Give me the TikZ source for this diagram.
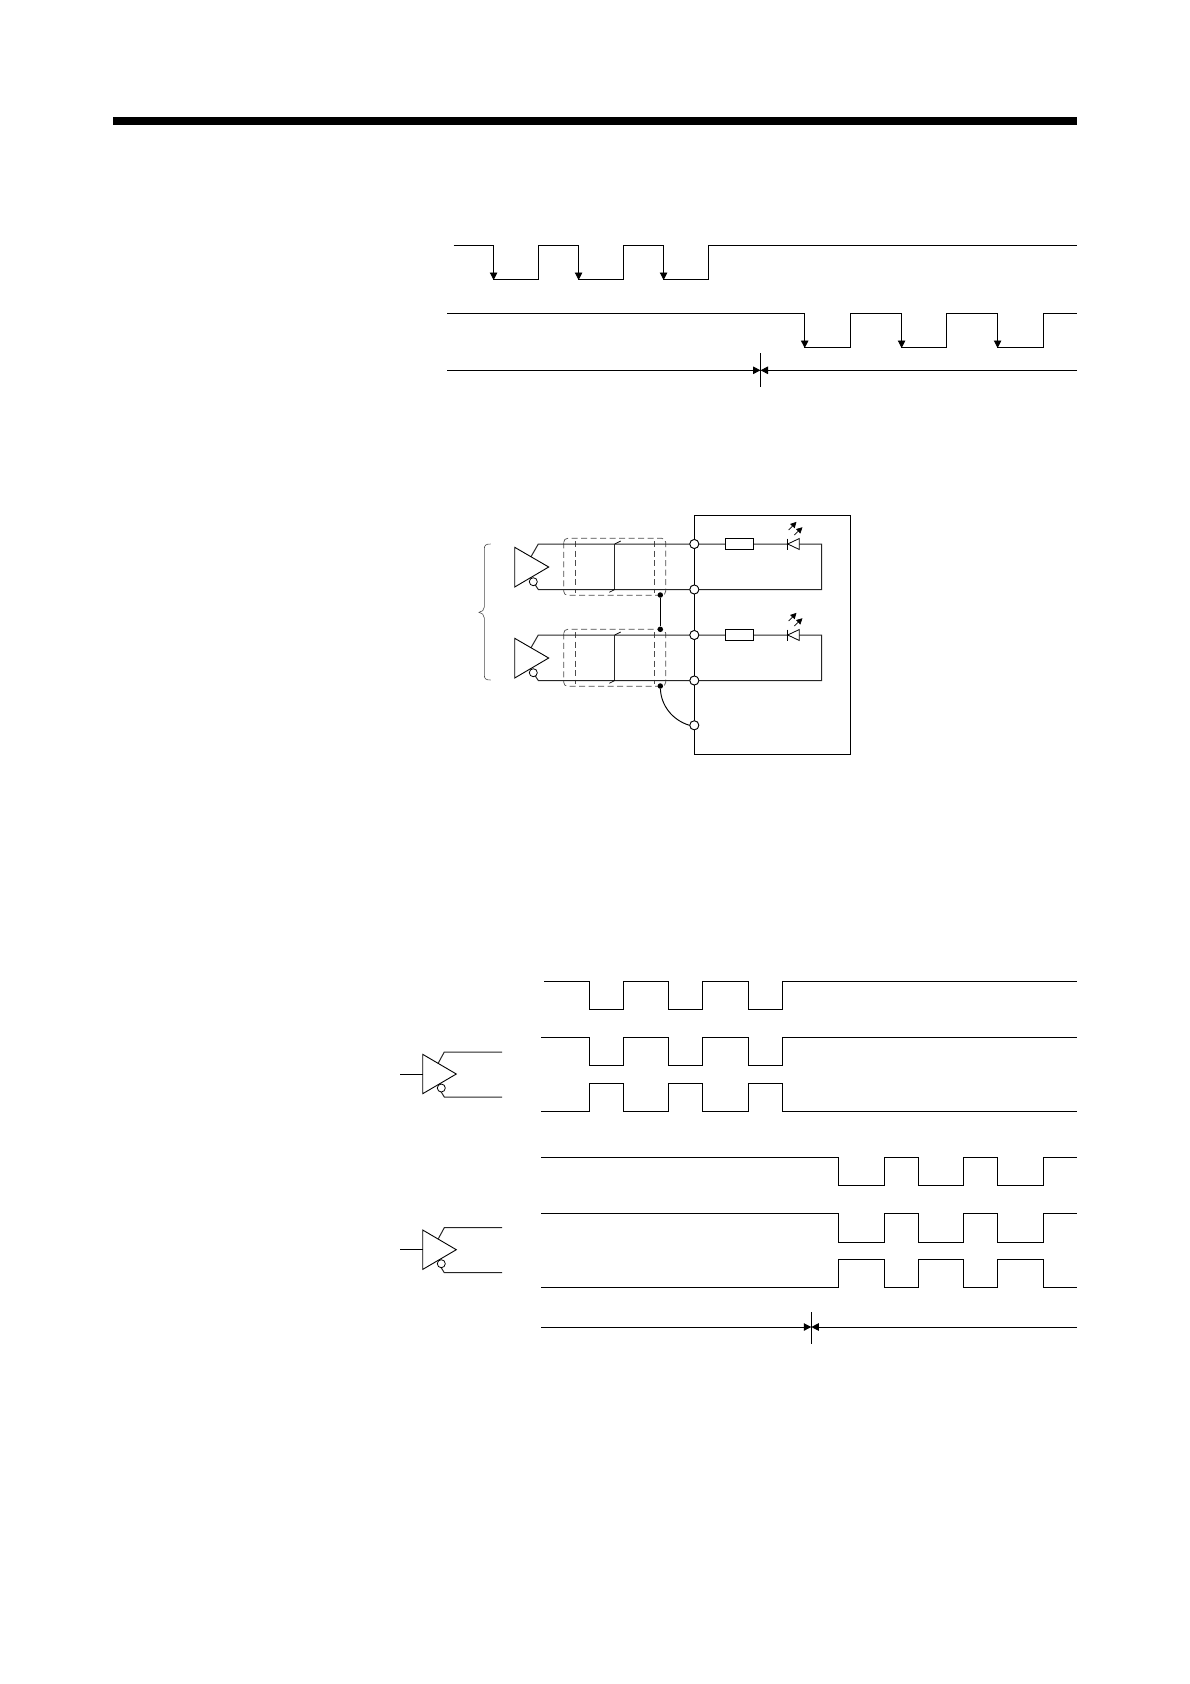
\documentclass[tikz,border=0pt]{standalone}
\usetikzlibrary{arrows.meta,calc}
\tikzset{
 wave/.style={line width=0.95pt,line join=miter},
 wire/.style={line width=1pt,black!85},
 thin wire/.style={line width=0.7pt},
 shield/.style={line width=0.7pt,black!70,dash pattern=on 6pt off 3.5pt},
 pad/.style={circle,draw,fill=white,line width=0.8pt,minimum size=9pt,inner sep=0pt},
 bub/.style={circle,draw,fill=white,line width=0.8pt,minimum size=8pt,inner sep=0pt},
 joint/.style={circle,fill=black,minimum size=5.5pt,inner sep=0pt},
 res/.style={draw,fill=white,line width=0.8pt,minimum width=28pt,minimum height=11pt,inner sep=0pt},
 tip/.style={-{Triangle[length=7.5pt,width=7.5pt]}},
 ltip/.style={-{Triangle[length=6pt,width=6pt]},line width=0.7pt},
 gate/.style={draw,fill=white,line width=0.9pt,line join=miter}
}
\begin{document}
\begin{tikzpicture}[x=1pt,y=-1pt]
\useasboundingbox (0,0) rectangle (1190,1684);
% header bar
\fill[black] (113,117) rectangle (1077,125);

% timing chart 1
\draw[wave] (453.5,245.3) -| (493.6,279.3) -| (538.6,245.3) -| (578.6,279.3) -| (623.6,245.3) -| (663.6,279.3) -| (708.6,245.3) -- (1077,245.3);
\foreach \x in {493.6,578.6,663.6}{\draw[wave,tip] (\x,245.3) -- (\x,280);}
\draw[wave] (447.3,313.3) -| (804.7,347.3) -| (850.6,313.3) -| (901.6,347.3) -| (946.6,313.3) -| (997.6,347.3) -| (1043.7,313.3) -- (1077,313.3);
\foreach \x in {804.7,901.6,997.6}{\draw[wave,tip] (\x,313.3) -- (\x,348);}
\coordinate (m1) at (760.5,370.3);
\draw[thin wire] (760.5,353) -- (760.5,387);
\draw[wave,tip] (447.3,370.3) -- (m1);
\draw[wave,tip] (1077,370.3) -- (m1);

% receiver box
\draw[wave] (694.3,515.3) rectangle (850.3,754);

\foreach \dy/\n in {0/a,91/b}{
 \begin{scope}[shift={(0,\dy)}]
  % shield
  \draw[shield,rounded corners=4pt] (563.7,538.3) rectangle (665.7,595.3);
  \draw[shield] (575.7,541) -- (575.7,593);
  \draw[shield] (654.3,541) -- (654.3,593);
  % pads and parts
  \coordinate (c\n1) at (538.3,544);
  \coordinate (c\n2) at (538.3,589.5);
  \node[pad] (p\n1) at (694.3,544) {};
  \node[pad] (p\n2) at (694.3,589.5) {};
  \coordinate (e\n1) at (821.7,544);
  \coordinate (e\n2) at (821.7,589.5);
  % wires
  \draw[wire] (531,556.7) -- (c\n1) -- (p\n1) -- (e\n1) -- (e\n2) -- (p\n2) -- (c\n2) -- (534,583);
  % twist
  \draw[wire] (614.7,544) -- (614.7,589.5);
  \draw[thin wire] (614.7,544) -- (620.7,541);
  \draw[thin wire] (614.7,589.5) -- (609.3,592.3);
  % resistor
  \node[res] (r\n) at (739.3,544) {};
  % diode
  \draw[gate,line width=0.8pt] (799.3,538.5) -- (799.3,549.5) -- (787.7,544) -- cycle;
  \draw[line width=0.8pt] (787.7,538.5) -- (787.7,549.5);
  \draw[ltip] (788.7,530) -- (796.5,521.8);
  \draw[ltip] (794.3,535) -- (802.5,527.2);
  % driver
  \draw[gate] (514.7,547.3) -- (514.7,587) -- (548.7,567) -- cycle;
  \node[bub] (b\n) at (533.3,581.7) {};
 \end{scope}
}
% chassis bus
\node[pad] (p5) at (694.3,725.3) {};
\draw[wave] (pa1) -- (pa2) -- (pb1) -- (pb2) -- (p5);
\node[pad] at (pa1) {}; \node[pad] at (pa2) {}; \node[pad] at (pb1) {}; \node[pad] at (pb2) {};
\node[pad] at (p5) {};
% shield joints
\node[joint] (j1) at (660.3,595) {};
\node[joint] (j2) at (660.3,629.3) {};
\node[joint] (j3) at (660.3,686) {};
\draw[wave] (j1) -- (j2);
\draw[wave] (j3) .. controls (661,705) and (672,720) .. (p5.west);
% brace
\draw[line width=0.6pt,black!70] (490.7,544) .. controls (486,544) and (484.3,545) .. (484.3,549) -- (484.3,607) .. controls (484.3,610) and (482,612) .. (479,612.3) .. controls (482,612.6) and (484.3,615) .. (484.3,618) -- (484.3,675) .. controls (484.3,679) and (486,680) .. (490.7,680);

% timing chart 2, phase A
\draw[wave] (544,981.5) -| (589.5,1009.5) -| (623,981.5) -| (668,1009.5) -| (702.4,981.5) -| (748.6,1009.5) -| (782.6,981.5) -- (1077,981.5);
\draw[wave] (541,1037.3) -| (589.5,1065.3) -| (623,1037.3) -| (668,1065.3) -| (702.4,1037.3) -| (748.6,1065.3) -| (782.6,1037.3) -- (1077,1037.3);
\draw[wave] (541,1111.3) -| (589.5,1083.3) -| (623,1111.3) -| (668,1083.3) -| (702.4,1111.3) -| (748.6,1083.3) -| (782.6,1111.3) -- (1077,1111.3);
% phase B
\draw[wave] (541,1157.3) -| (838.3,1185.3) -| (884.3,1157.3) -| (918.3,1185.3) -| (963.3,1157.3) -| (997.3,1185.3) -| (1043.3,1157.3) -- (1077,1157.3);
\draw[wave] (541,1213.3) -| (838.3,1242.3) -| (884.3,1213.3) -| (918.3,1242.3) -| (963.3,1213.3) -| (997.3,1242.3) -| (1043.3,1213.3) -- (1077,1213.3);
\draw[wave] (541,1287.3) -| (838.3,1259.3) -| (884.3,1287.3) -| (918.3,1259.3) -| (963.3,1287.3) -| (997.3,1259.3) -| (1043.3,1287.3) -- (1077,1287.3);
\coordinate (m2) at (811.3,1327);
\draw[line width=0.9pt] (811.3,1312) -- (811.3,1343.7);
\draw[wave,tip] (541,1327) -- (m2);
\draw[wave,tip] (1077,1327) -- (m2);

% line drivers
\foreach \dy/\n in {0/c,175.7/d}{
 \begin{scope}[shift={(0,\dy)}]
  \coordinate (in\n) at (400,1074);
  \coordinate (o\n1) at (502,1052);
  \coordinate (o\n2) at (502,1097);
  \draw[wire] (438.3,1063) -- (444.3,1052) -- (o\n1);
  \draw[wire] (o\n2) -- (444.3,1097) -- (440,1090);
  \draw[gate] (422.7,1054.3) -- (422.7,1093.7) -- (456.3,1074) -- cycle;
  \draw[wave] (in\n) -- (422.7,1074);
  \node[bub] (bb\n) at (441.3,1088) {};
 \end{scope}
}
\end{tikzpicture}
\end{document}
